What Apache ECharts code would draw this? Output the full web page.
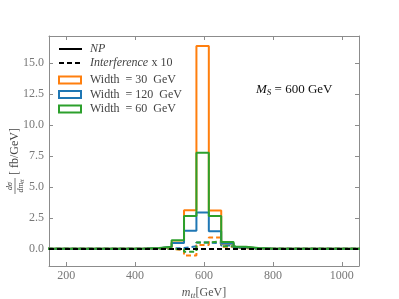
<!DOCTYPE html>
<html><head><meta charset="utf-8">
<script src="https://cdn.jsdelivr.net/npm/echarts@6/dist/echarts.min.js"></script>
<style>html,body{margin:0;padding:0;background:#fff}#c{width:399px;height:299px}</style>
</head><body><div id="c"></div>
<script>
// ---- data ----
const binEdges = [146,182,218,254,290,326,362,398,434,470,506,542,578,614,650,686,722,758,794,830,866,902,938,974,1010,1046,1082];
// NP histograms (fb/GeV) per bin
const npW30  = [0,0,0,0,0,0,0,0.01,0.03,0.12,0.50,3.10,16.40,3.08,0.40,0.10,0.03,0.01,0,0,0,0,0,0,0,0];
const npW120 = [0,0,0,0,0,0,0,0.01,0.04,0.15,0.45,1.45,2.93,1.42,0.42,0.12,0.04,0.01,0,0,0,0,0,0,0,0];
const npW60  = [0,0,0,0,0,0,0,0.01,0.05,0.16,0.68,2.64,7.75,2.64,0.55,0.15,0.05,0.01,0,0,0,0,0,0,0,0];
// Interference x 10
const intW30  = [0,0,0,0,0,0,0,0,0,-0.02,-0.10,-0.55,0.30,0.90,0.15,0.03,0,0,0,0,0,0,0,0,0,0];
const intW120 = [0,0,0,0,0,0,0,0,0,0.02,0.05,0.20,0.50,0.45,0.25,0.05,0,0,0,0,0,0,0,0,0,0];
const intW60  = [0,0,0,0,0,0,0,0,0,-0.01,-0.05,-0.25,0.50,0.60,0.20,0.05,0,0,0,0,0,0,0,0,0,0];
const xTicks = [200,400,600,800,1000];
const yTicks = [0,2.5,5,7.5,10,12.5,15];
const legendLabels = ['Width  = 30  GeV','Width  = 120  GeV','Width  = 60  GeV'];

const C_OR = '#ff7f0e', C_BL = '#1f77b4', C_GR = '#2ca02c';
const FONT = 'Liberation Serif';
const AX = '#8c8c8c';

function steps(vals){
  const d = vals.map((v,i)=>[binEdges[i], v]);
  d.push([binEdges[vals.length], vals[vals.length-1]]);
  return d;
}
function lineSeries(vals, color, dashed, z){
  return {type:'line', step:'end', data:steps(vals), symbol:'none', z:z, clip:true,
    lineStyle:{color:color, width:2, type: dashed ? [5,3] : 'solid'}, silent:true};
}

const chart = echarts.init(document.getElementById('c'), null, {renderer:'canvas'});
const axBase = {
  axisLine:{show:true, onZero:false, lineStyle:{color:AX, width:1}},
  splitLine:{show:false},
};
const option = {
  animation:false,
  grid:{left:49, right:40, top:36, bottom:33, containLabel:false, outerBoundsMode:'none'},
  xAxis:[
    Object.assign({type:'value', min:150, max:1050, position:'bottom',
      axisTick:{show:true, inside:true, length:4, customValues:xTicks, lineStyle:{color:AX}},
      axisLabel:{customValues:xTicks, color:'#777', fontFamily:FONT, fontSize:12, margin:4,
        formatter:v=>String(v)},
      name:'{i|m}{s|tt}{n|[GeV]}', nameLocation:'middle', nameGap:15,
      nameTextStyle:{rich:{
        i:{fontFamily:FONT, fontStyle:'italic', fontSize:12, color:'#555'},
        s:{fontFamily:FONT, fontStyle:'italic', fontSize:9, color:'#555', padding:[5,0,0,0]},
        n:{fontFamily:FONT, fontSize:12, color:'#555'}}}
    }, axBase),
    Object.assign({type:'value', min:150, max:1050, position:'top',
      axisTick:{show:true, inside:true, length:4, customValues:xTicks, lineStyle:{color:AX}},
      axisLabel:{show:false}}, axBase)
  ],
  yAxis:[
    Object.assign({type:'value', min:-1.4, max:17.2, position:'left',
      axisTick:{show:true, inside:true, length:4, customValues:yTicks, lineStyle:{color:AX}},
      axisLabel:{customValues:yTicks, color:'#777', fontFamily:FONT, fontSize:12, margin:5,
        formatter:v=>v.toFixed(1)}}, axBase),
    Object.assign({type:'value', min:-1.4, max:17.2, position:'right',
      axisTick:{show:true, inside:true, length:4, customValues:yTicks, lineStyle:{color:AX}},
      axisLabel:{show:false}}, axBase)
  ],
  series:[
    {type:'line', data:[], z:1, markLine:{silent:true, symbol:'none', label:{show:false},
      lineStyle:{color:'#000', width:2, type:[5,3]}, data:[{yAxis:0}]}},
    lineSeries(intW30, C_OR, true, 2),
    lineSeries(intW120, C_BL, true, 2),
    lineSeries(intW60, C_GR, true, 2),
    lineSeries(npW30, C_OR, false, 3),
    lineSeries(npW120, C_BL, false, 3),
    lineSeries(npW60, C_GR, false, 3)
  ],
  graphic:[]
};

// legend
const g = option.graphic;
const lx = 59, tx = 90;
g.push({type:'line', shape:{x1:lx, y1:49, x2:lx+23, y2:49}, style:{stroke:'#000', lineWidth:2}});
g.push({type:'text', x:tx, y:49, style:{text:'NP', font:'italic 12px "Liberation Serif"', fill:'#444', verticalAlign:'middle'}});
g.push({type:'line', shape:{x1:lx, y1:63, x2:lx+23, y2:63}, style:{stroke:'#000', lineWidth:2, lineDash:[5,3]}});
g.push({type:'text', x:tx, y:63, style:{text:'{i|Interference} {n|x 10}', verticalAlign:'middle',
  rich:{i:{fontFamily:FONT, fontStyle:'italic', fontSize:12, fill:'#444'}, n:{fontFamily:FONT, fontSize:12, fill:'#444'}}}});
[C_OR, C_BL, C_GR].forEach((c,i)=>{
  const y = 80 + i*14.5;
  g.push({type:'rect', shape:{x:lx, y:y-3.5, width:22, height:7}, style:{stroke:c, fill:'none', lineWidth:2}});
  g.push({type:'text', x:tx, y:y, style:{text:legendLabels[i], font:'12px "Liberation Serif"', fill:'#444', verticalAlign:'middle'}});
});
// annotation
g.push({type:'text', x:256, y:90, style:{text:'{i|M}{s|S}{n| = 600 GeV}', verticalAlign:'middle',
  rich:{i:{fontFamily:FONT, fontStyle:'italic', fontSize:13, fill:'#111'},
        s:{fontFamily:FONT, fontStyle:'italic', fontSize:9, fill:'#111', padding:[6,0,0,0]},
        n:{fontFamily:FONT, fontSize:13, fill:'#111'}}}});
// y axis label (rotated)
g.push({type:'group', x:15, y:194, rotation:Math.PI/2, children:[
  {type:'line', shape:{x1:0, y1:0, x2:16, y2:0}, style:{stroke:'#444', lineWidth:0.7}},
  {type:'text', x:8, y:-1, style:{text:'dσ', font:'italic 8px "Liberation Serif"', fill:'#444', align:'center', verticalAlign:'bottom'}},
  {type:'text', x:8, y:1, style:{text:'{i|dm}{s|tt}', align:'center', verticalAlign:'top',
    rich:{i:{fontFamily:FONT, fontStyle:'italic', fontSize:8, fill:'#444'}, s:{fontFamily:FONT, fontStyle:'italic', fontSize:6, fill:'#444', padding:[3,0,0,0]}}}},
  {type:'text', x:19, y:0, style:{text:'[ fb/GeV]', font:'12px "Liberation Serif"', fill:'#444', verticalAlign:'middle'}}
]});

chart.setOption(option);
</script></body></html>
